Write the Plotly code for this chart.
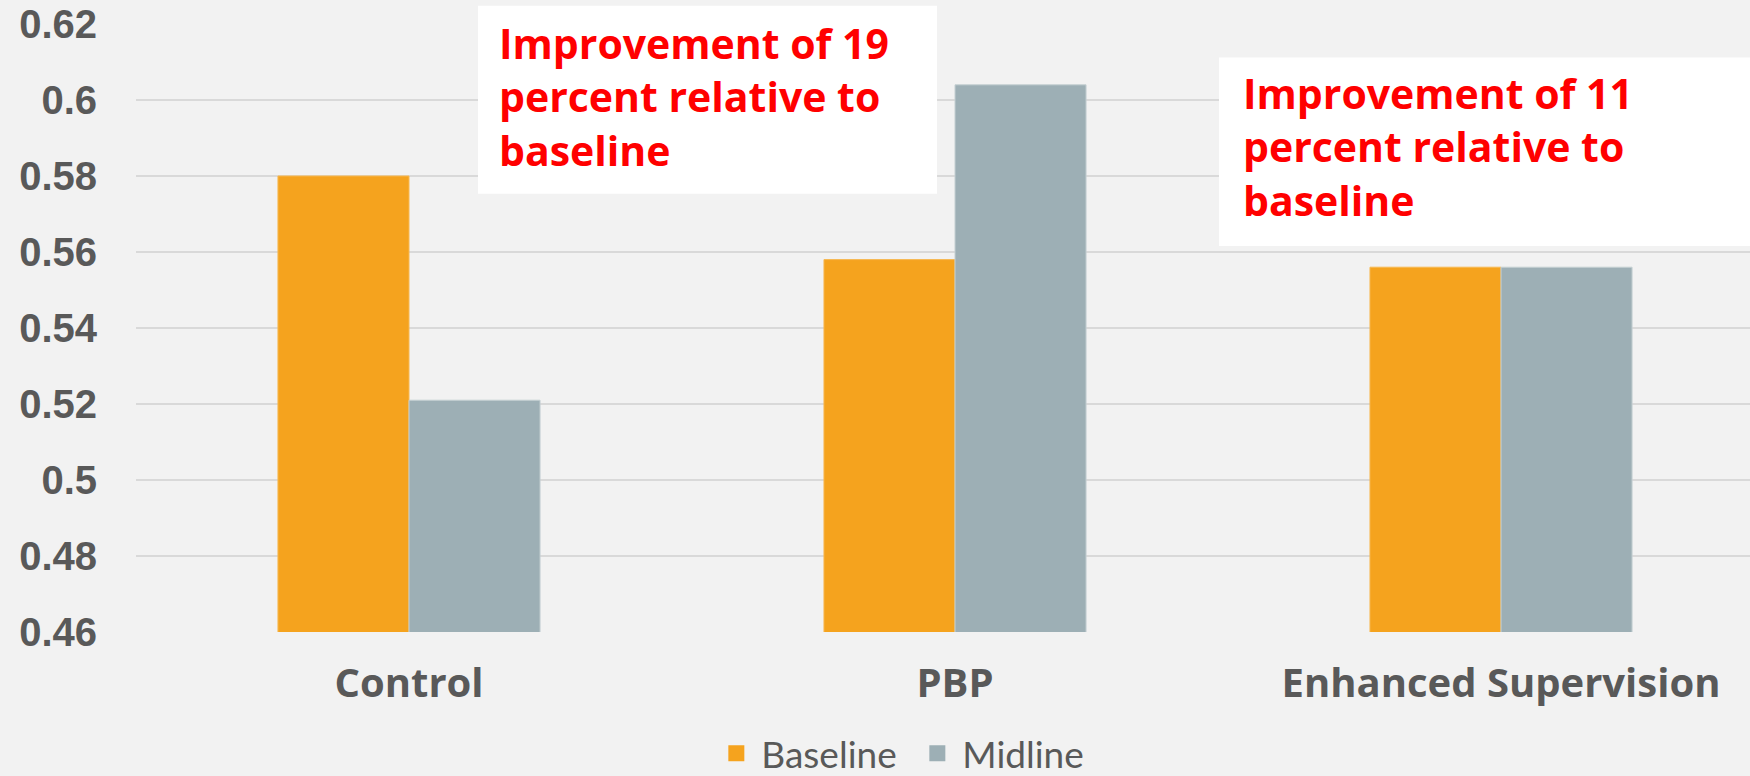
import plotly.graph_objects as go

categories = ["Control", "PBP", "Enhanced Supervision"]
series_names = ["Baseline", "Midline"]
baseline = [0.580, 0.558, 0.556]
midline = [0.521, 0.604, 0.556]
tick_vals = [0.46, 0.48, 0.50, 0.52, 0.54, 0.56, 0.58, 0.60, 0.62]
tick_text = ["0.46", "0.48", "0.5", "0.52", "0.54", "0.56", "0.58", "0.6", "0.62"]
note_1 = "Improvement of 19<br>percent relative to<br>baseline"
note_2 = "Improvement of 11<br>percent relative to<br>baseline"

FONT_B = "Open Sans"
FONT_R = "Lato"
FONT_Y = "Liberation Sans"
GREY_TXT = "#595959"
BG = "#F2F2F2"
COLORS = ["#F5A31E", "#9DAFB5"]
EDGES = ["#F7B850", "#C5D0D3"]

fig = go.Figure()
for name, vals, c, e in zip(series_names, [baseline, midline], COLORS, EDGES):
    fig.add_trace(go.Bar(name=name, x=categories, y=vals, showlegend=False,
                         marker=dict(color=c, line=dict(color=e, width=1))))
# legend swatches (larger squares than bar legend default)
for name, c in zip(series_names, COLORS):
    fig.add_trace(go.Scatter(name=name, x=[None], y=[None], mode="markers",
                             marker=dict(symbol="square", size=19, color=c), showlegend=True))

fig.update_layout(
    width=1750, height=776,
    margin=dict(l=136, r=0, t=24, b=144, autoexpand=False),
    paper_bgcolor=BG, plot_bgcolor=BG,
    barmode="group", bargap=0.52, bargroupgap=0,
    font=dict(family=FONT_B, color=GREY_TXT),
    showlegend=True,
    legend=dict(orientation="h", x=0.481, xanchor="center", y=-0.200, yanchor="middle",
                font=dict(family=FONT_R, size=37, color=GREY_TXT), bgcolor="rgba(0,0,0,0)",
                itemwidth=40, entrywidth=146, tracegroupgap=0),
    xaxis=dict(range=[-0.5, 2.456], showgrid=False, zeroline=False, showline=False,
               tickfont=dict(family=FONT_B, size=40, color=GREY_TXT, weight="bold"),
               ticks="", ticklabelstandoff=24, ticklabeloverflow="allow"),
    yaxis=dict(range=[0.46, 0.62], tickvals=tick_vals, ticktext=tick_text,
               showgrid=True, gridcolor="#D9D9D9", gridwidth=2, zeroline=False, showline=False,
               tickfont=dict(family=FONT_Y, size=40, color=GREY_TXT, weight="bold"),
               ticks="", ticklabelstandoff=38, ticklabeloverflow="allow"),
)

# white note boxes
fig.add_shape(type="rect", xref="paper", yref="paper", x0=0.2119, x1=0.4963, y0=0.721, y1=1.030,
              fillcolor="white", line=dict(width=0), layer="above")
fig.add_shape(type="rect", xref="paper", yref="paper", x0=0.671, x1=1.0, y0=0.635, y1=0.945,
              fillcolor="white", line=dict(width=0), layer="above")

fig.add_annotation(text=note_1, xref="paper", yref="paper", x=0.2237, y=1.018, xanchor="left",
                   yanchor="top", align="left", showarrow=False,
                   font=dict(family=FONT_B, size=41, color="#FF0000", weight="bold"))
fig.add_annotation(text=note_2, xref="paper", yref="paper", x=0.6845, y=0.936, xanchor="left",
                   yanchor="top", align="left", showarrow=False,
                   font=dict(family=FONT_B, size=41, color="#FF0000", weight="bold"))

fig.write_html("out.html")
